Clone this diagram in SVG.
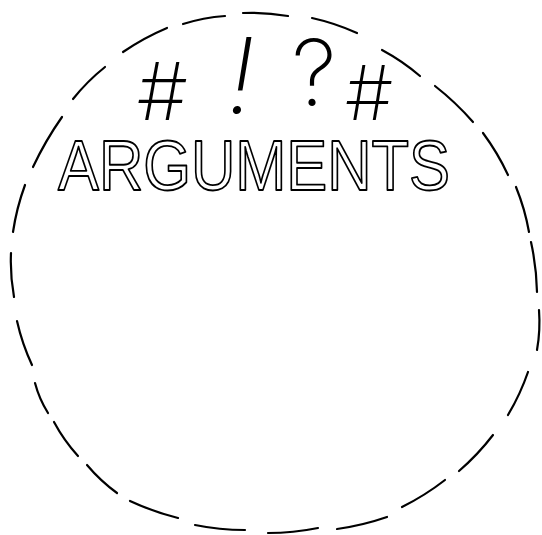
<svg xmlns="http://www.w3.org/2000/svg" width="542" height="535" viewBox="0 0 542 535">
<style>
.dash{fill:none;stroke:#000;stroke-width:2.2;stroke-linecap:round}
.sym{font-family:Inter,"Liberation Sans",sans-serif;font-weight:200;fill:#000;text-anchor:middle}
.word{font-family:"Liberation Sans",Arial,sans-serif;fill:none;stroke:#000;stroke-width:1.9;stroke-linejoin:round}
</style>
<rect width="542" height="535" fill="#fff"/>
<g id="circle">
<path class="dash" d="M33,167 Q45.3,140.8 62,117"/>
<path class="dash" d="M73,99 Q87.2,81.2 105,67"/>
<path class="dash" d="M123,52 Q143.8,37.8 167,28"/>
<path class="dash" d="M183,24 Q203.3,17.6 225,16"/>
<path class="dash" d="M243,13 Q265.4,12 288,16"/>
<path class="dash" d="M312,18 Q335.1,23.1 357,33"/>
<path class="dash" d="M382,50 Q402.3,60.9 420,76"/>
<path class="dash" d="M435,86 Q455.8,102.3 473,122"/>
<path class="dash" d="M483,133 Q497.7,152.8 508,175"/>
<path class="dash" d="M516,187 Q524.9,208.9 529,232"/>
<path class="dash" d="M531,242 Q536.5,267 537,292"/>
<path class="dash" d="M539,310 Q540.5,330.5 537,350"/>
<path class="dash" d="M528,372 Q520.2,394.6 508,415"/>
<path class="dash" d="M493,435 Q477.9,454.7 459,471"/>
<path class="dash" d="M445,480 Q424.9,495.6 402,507"/>
<path class="dash" d="M387,517 Q362.8,525.4 337,529"/>
<path class="dash" d="M318,528 Q293.2,533 268,533"/>
<path class="dash" d="M245,530 Q219.5,530 195,525"/>
<path class="dash" d="M178,518 Q152.9,511.7 130,501"/>
<path class="dash" d="M117,493 Q100.4,480.9 87,465"/>
<path class="dash" d="M78,456 Q64,440.6 54,422"/>
<path class="dash" d="M48,413 Q39.3,399.2 35,383"/>
<path class="dash" d="M32,365 Q22.1,343.7 17,321"/>
<path class="dash" d="M14,297 Q10,275 11,253"/>
<path class="dash" d="M13,232 Q16.6,207.9 25,185"/>
</g>
<g id="symbols">
<text class="sym" x="161" y="120" font-size="80" font-style="italic">#</text>
<text class="sym" x="241" y="113" font-size="104" font-style="italic">!</text>
<text class="sym" x="314" y="106" font-size="92">?</text>
<text class="sym" x="369" y="120" font-size="76">#</text>
</g>
<g id="title">
<text class="word" x="58" y="190" font-size="70" textLength="392" lengthAdjust="spacingAndGlyphs">ARGUMENTS</text>
</g>
</svg>
